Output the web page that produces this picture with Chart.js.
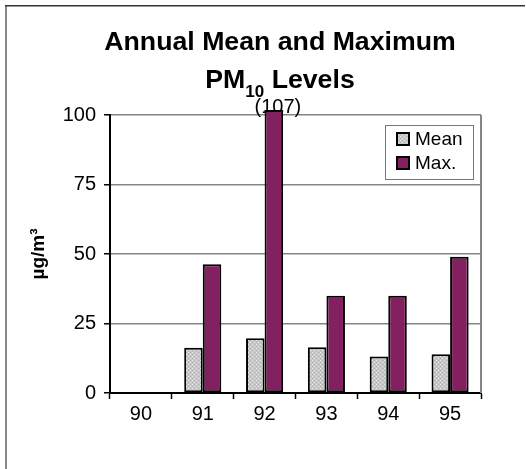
<!DOCTYPE html>
<html>
<head>
<meta charset="utf-8">
<script src="https://cdn.jsdelivr.net/npm/chart.js@4/dist/chart.umd.min.js"></script>
<style>
  html, body { margin: 0; padding: 0; background: #ffffff; }
  canvas { display: block; }
</style>
</head>
<body>
<canvas id="pm10" width="526" height="469"></canvas>
<script>
// Annual PM10 levels (µg/m3) by year
const years = ['90', '91', '92', '93', '94', '95'];
const meanValues = [null, 16.3, 19.7, 16.5, 13.1, 13.9];
const maxValues = [null, 46.3, 107, 35, 35, 49];
const yTicks = [0, 25, 50, 75, 100];
const seriesNames = ['Mean', 'Max.'];

const FONT = "'Liberation Sans', Arial, sans-serif";
const PURPLE = '#83205f';
const GRID = '#858585';

// stippled light-grey fill for the mean bars
function stipple() {
  const p = document.createElement('canvas');
  p.width = 4; p.height = 4;
  const g = p.getContext('2d');
  g.fillStyle = '#c6c6c6';
  g.fillRect(0, 0, 4, 4);
  g.fillStyle = '#eeeeee';
  g.fillRect(0, 0, 1, 1);
  g.fillRect(2, 2, 1, 1);
  g.fillStyle = '#b2b2b2';
  g.fillRect(2, 0, 1, 1);
  g.fillRect(0, 2, 1, 1);
  return g.createPattern(p, 'repeat');
}

const Y_MAX = yTicks[yTicks.length - 1];
const OVERFLOW = 5; // px a bar may rise above the plot before being cut

// outer frame, title, right border of the plot, legend
const framePlugin = {
  id: 'frame',
  beforeDraw(chart) {
    const c = chart.ctx;
    c.save();
    c.fillStyle = '#ffffff';
    c.fillRect(0, 0, chart.width, chart.height);
    c.fillStyle = '#8a8a8a';
    c.fillRect(5, 5, 2, chart.height - 5);
    c.fillStyle = '#333333';
    c.fillRect(5, 5, chart.width - 6, 1.5);
    c.restore();
  },
  afterDraw(chart) {
    const c = chart.ctx;
    const a = chart.chartArea;
    c.save();
    // plot right edge
    c.strokeStyle = GRID;
    c.lineWidth = 2;
    c.beginPath();
    c.moveTo(a.right, a.top);
    c.lineTo(a.right, a.bottom);
    c.stroke();

    // two-line title with PM10 subscript
    const cx = 280;
    const big = 'bold 26.7px ' + FONT;
    const small = 'bold 17px ' + FONT;
    c.fillStyle = '#000000';
    c.textBaseline = 'alphabetic';
    c.textAlign = 'left';
    c.font = big;
    const l1 = 'Annual Mean and Maximum';
    const w1 = c.measureText(l1).width;
    c.fillText(l1, cx - w1 / 2, 50);

    const pm = 'PM', rest = ' Levels', sub = '10';
    const wPm = c.measureText(pm).width;
    const wRest = c.measureText(rest).width;
    c.font = small;
    const wSub = c.measureText(sub).width;
    let x = cx - (wPm + wSub + wRest) / 2;
    c.font = big;
    c.fillText(pm, x, 88);
    x += wPm;
    c.font = small;
    c.fillText(sub, x, 97);
    x += wSub;
    c.font = big;
    c.fillText(rest, x, 88);

    // legend box inside the plot
    const bx = a.right - 96, by = a.top + 10, bw = 88, bh = 54;
    c.fillStyle = '#ffffff';
    c.fillRect(bx, by, bw, bh);
    c.strokeStyle = '#777777';
    c.lineWidth = 1;
    c.strokeRect(bx + 0.5, by + 0.5, bw, bh);
    c.font = '19px ' + FONT;
    c.textBaseline = 'middle';
    chart.data.datasets.forEach((ds, i) => {
      const ry = by + 8 + i * 24;
      c.fillStyle = ds.backgroundColor;
      c.fillRect(bx + 12, ry, 12, 12);
      c.strokeStyle = '#000000';
      c.lineWidth = 2;
      c.strokeRect(bx + 12, ry, 12, 12);
      c.fillStyle = '#000000';
      c.fillText(ds.label, bx + 30, ry + 7);
    });
    c.restore();
  }
};

// value label for bars that run past the axis maximum, plus the cut edge
const overflowPlugin = {
  id: 'overflow',
  beforeDatasetsDraw(chart) {
    const c = chart.ctx;
    c.save();
    c.font = '20px ' + FONT;
    c.fillStyle = '#000000';
    c.textAlign = 'center';
    c.textBaseline = 'alphabetic';
    chart.data.datasets.forEach((ds, di) => {
      const meta = chart.getDatasetMeta(di);
      ds.data.forEach((v, i) => {
        if (v != null && v > Y_MAX) {
          const bar = meta.data[i];
          c.fillText('(' + v + ')', bar.x + 4, chart.chartArea.top - 2);
        }
      });
    });
    c.restore();
  },
  afterDatasetsDraw(chart) {
    const c = chart.ctx;
    c.save();
    c.fillStyle = '#000000';
    chart.data.datasets.forEach((ds, di) => {
      const meta = chart.getDatasetMeta(di);
      ds.data.forEach((v, i) => {
        if (v != null && v > Y_MAX) {
          const bar = meta.data[i];
          c.fillRect(bar.x - bar.width / 2, chart.chartArea.top - OVERFLOW, bar.width, 2);
        }
      });
    });
    c.restore();
  }
};

const ctx = document.getElementById('pm10').getContext('2d');
new Chart(ctx, {
  type: 'bar',
  data: {
    labels: years,
    datasets: [
      {
        label: seriesNames[0],
        data: meanValues,
        backgroundColor: stipple(),
        borderColor: '#000000',
        borderWidth: 2,
        borderSkipped: false,
        categoryPercentage: 0.6,
        barPercentage: 1.0,
        clip: { left: 0, top: OVERFLOW, right: 0, bottom: 0 }
      },
      {
        label: seriesNames[1],
        data: maxValues,
        backgroundColor: PURPLE,
        borderColor: '#000000',
        borderWidth: 2,
        borderSkipped: false,
        categoryPercentage: 0.6,
        barPercentage: 1.0,
        clip: { left: 0, top: OVERFLOW, right: 0, bottom: 0 }
      }
    ]
  },
  options: {
    responsive: false,
    devicePixelRatio: 1,
    animation: false,
    layout: { padding: { left: 0, top: 115, right: 45, bottom: 0 } },
    plugins: {
      legend: { display: false },
      title: { display: false },
      tooltip: { enabled: false }
    },
    scales: {
      x: {
        offset: true,
        grid: {
          offset: true,
          drawOnChartArea: false,
          drawTicks: true,
          tickLength: 6,
          tickColor: '#000000',
          tickWidth: 1.5
        },
        border: { display: true, color: '#000000', width: 2 },
        ticks: {
          color: '#000000',
          font: { family: FONT, size: 20 },
          padding: 3,
          maxRotation: 0
        },
        afterFit(scale) { scale.height = 469 - 393; }
      },
      y: {
        min: 0,
        max: Y_MAX,
        afterBuildTicks(scale) { scale.ticks = yTicks.map(v => ({ value: v })); },
        grid: {
          color: (c) => (c.tick && c.tick.value === 0 ? 'rgba(0,0,0,0)' : GRID),
          lineWidth: 1.5,
          tickLength: 6,
          tickColor: '#000000',
          tickWidth: 1.5
        },
        border: { display: true, color: '#000000', width: 2 },
        ticks: {
          color: '#000000',
          font: { family: FONT, size: 20 },
          padding: 8
        },
        title: {
          display: true,
          text: 'µg/m³',
          color: '#000000',
          font: { family: FONT, size: 19, weight: 'bold' },
          padding: { top: 27, bottom: 0 }
        },
        afterFit(scale) { scale.width = 110; }
      }
    }
  },
  plugins: [framePlugin, overflowPlugin]
});
</script>
</body>
</html>
